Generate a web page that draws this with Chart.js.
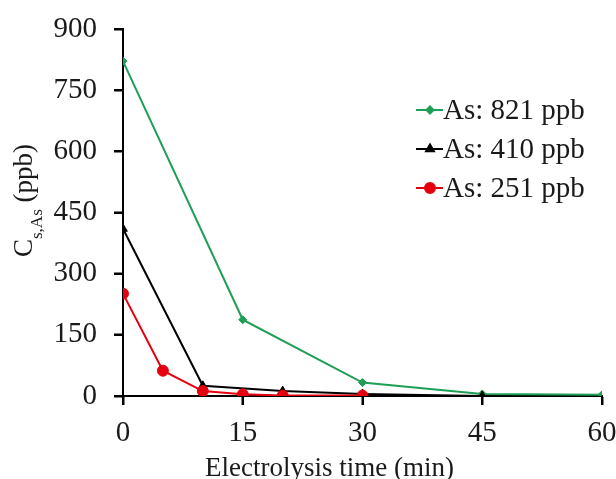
<!DOCTYPE html>
<html>
<head>
<meta charset="utf-8">
<script src="https://cdn.jsdelivr.net/npm/chart.js@4"></script>
<style>
  html, body { margin: 0; padding: 0; background: #fff; }
  #wrap { width: 616px; height: 479px; }
</style>
</head>
<body>
<div id="wrap"><canvas id="chart" width="616" height="479"></canvas></div>
<script>
// Dane
const seriesLabels = ['As: 821 ppb', 'As: 410 ppb', 'As: 251 ppb'];
const time821 = [0, 15, 30, 45, 60];
const conc821 = [821, 187, 33, 5, 3];
const time410 = [0, 10, 20, 30, 45];
const conc410 = [410, 25, 12, 5, 0];
const time251 = [0, 5, 10, 15, 20, 30];
const conc251 = [251, 62, 12, 4, 1, 1];
const xTicks = [0, 15, 30, 45, 60];
const yTicks = [0, 150, 300, 450, 600, 750, 900];

const colors = ['#1f9e55', '#000000', '#e5000f'];
const markers = ['rectRot', 'triangle', 'circle'];
const markerSize = [4, 5, 5.5];

function toPoints(xs, ys) {
    return xs.map((x, i) => ({ x: x, y: ys[i] }));
}

const serif = '"Liberation Serif", "Times New Roman", serif';
const textColor = '#1a1a1a';

// Kreski podziałki na zewnątrz osi
const tickMarksPlugin = {
    id: 'tickMarks',
    afterDraw(chart) {
        const ctx = chart.ctx;
        const xs = chart.scales.x, ys = chart.scales.y;
        const area = chart.chartArea;
        ctx.save();
        ctx.strokeStyle = '#000';
        ctx.lineWidth = 2;
        ctx.beginPath();
        xTicks.forEach(v => {
            const px = Math.round(xs.getPixelForValue(v));
            ctx.moveTo(px, area.bottom);
            ctx.lineTo(px, area.bottom + 9);
        });
        yTicks.forEach(v => {
            const py = Math.round(ys.getPixelForValue(v));
            ctx.moveTo(area.left, py);
            ctx.lineTo(area.left - 9, py);
        });
        ctx.stroke();
        ctx.restore();
    }
};

// Własna legenda wewnątrz obszaru wykresu
const legendPlugin = {
    id: 'insideLegend',
    afterDraw(chart) {
        const ctx = chart.ctx;
        const rows = [110, 149, 188];
        ctx.save();
        seriesLabels.forEach((label, i) => {
            const y = rows[i];
            ctx.strokeStyle = colors[i];
            ctx.lineWidth = 2;
            ctx.beginPath();
            ctx.moveTo(416, y);
            ctx.lineTo(443, y);
            ctx.stroke();
            ctx.fillStyle = colors[i];
            Chart.helpers.drawPoint(ctx, {
                pointStyle: markers[i],
                radius: markerSize[i] - 0.5,
                rotation: 0,
                borderWidth: 1
            }, 430, y);
            ctx.fillStyle = textColor;
            ctx.font = '29px ' + serif;
            ctx.textBaseline = 'middle';
            ctx.textAlign = 'left';
            ctx.fillText(label, 443, y + 1);
        });
        ctx.restore();
    }
};

// Tytuły osi rysowane ręcznie (indeks dolny w osi Y)
const titlesPlugin = {
    id: 'axisTitles',
    afterDraw(chart) {
        const ctx = chart.ctx;
        ctx.save();
        ctx.fillStyle = textColor;
        ctx.textBaseline = 'alphabetic';

        // oś X
        ctx.font = '27px ' + serif;
        ctx.textAlign = 'left';
        ctx.fillText('Electrolysis time (min)', 205, 476);

        // oś Y
        ctx.translate(32, 257);
        ctx.rotate(-Math.PI / 2);
        const parts = [
            { t: 'C', f: '27px ' + serif, dy: 0 },
            { t: 's,As', f: '17px ' + serif, dy: 10 },
            { t: ' (ppb)', f: '27px ' + serif, dy: 0 }
        ];
        let x = 0;
        parts.forEach(p => {
            ctx.font = p.f;
            ctx.fillText(p.t, x, p.dy);
            x += ctx.measureText(p.t).width;
        });
        ctx.restore();
    }
};

const axisGrid = { drawOnChartArea: false, drawTicks: true, tickLength: 9, color: '#000', tickColor: '#000', tickWidth: 2 };

new Chart(document.getElementById('chart'), {
    type: 'scatter',
    data: {
        datasets: [
            { label: seriesLabels[0], data: toPoints(time821, conc821) },
            { label: seriesLabels[1], data: toPoints(time410, conc410) },
            { label: seriesLabels[2], data: toPoints(time251, conc251) }
        ].map((ds, i) => Object.assign(ds, {
            showLine: true,
            borderColor: colors[i],
            backgroundColor: colors[i],
            borderWidth: 2,
            pointStyle: markers[i],
            pointRadius: markerSize[i],
            pointBorderWidth: 1,
            tension: 0
        })).reverse()
    },
    options: {
        responsive: false,
        animation: false,
        layout: { padding: { top: 29, right: 14, left: 0, bottom: 0 } },
        plugins: {
            legend: { display: false },
            tooltip: { enabled: false }
        },
        scales: {
            x: {
                type: 'linear',
                min: 0,
                max: 60,
                afterBuildTicks(scale) { scale.ticks = xTicks.map(v => ({ value: v })); },
                afterFit(scale) {
                    scale.height = 83;
                    scale.paddingLeft = 0;
                    scale.paddingRight = 0;
                },
                grid: axisGrid,
                border: { color: '#000', width: 2 },
                ticks: { color: textColor, padding: 11, font: { family: serif, size: 29 } }
            },
            y: {
                min: 0,
                max: 900,
                afterBuildTicks(scale) { scale.ticks = yTicks.map(v => ({ value: v })); },
                afterFit(scale) {
                    scale.width = 123;
                    scale.paddingTop = 0;
                    scale.paddingBottom = 0;
                },
                grid: axisGrid,
                border: { color: '#000', width: 2 },
                ticks: { color: textColor, padding: 17, font: { family: serif, size: 29 } }
            }
        }
    },
    plugins: [tickMarksPlugin, legendPlugin, titlesPlugin]
});
</script>
</body>
</html>
